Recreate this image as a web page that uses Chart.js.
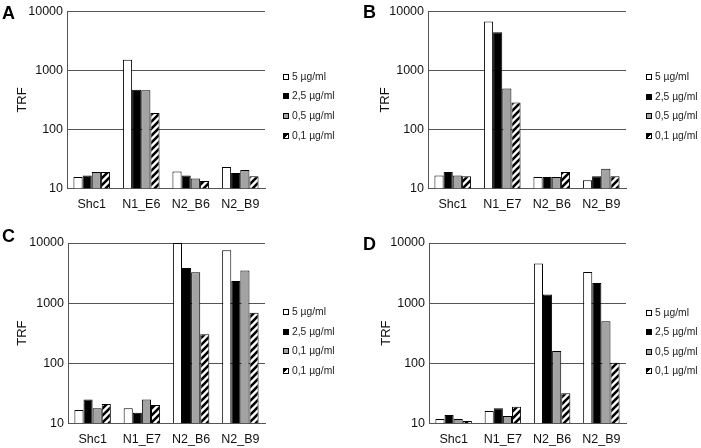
<!DOCTYPE html>
<html><head><meta charset="utf-8">
<script src="https://cdn.jsdelivr.net/npm/chart.js@4.4.0/dist/chart.umd.min.js"></script>
<style>
html,body{margin:0;padding:0;background:#fff;}
body{width:701px;height:448px;position:relative;overflow:hidden;font-family:"Liberation Sans",Arial,sans-serif;}
canvas{position:absolute;}
.letter{position:absolute;font-weight:bold;font-size:18px;line-height:1;color:#000;}
.li{position:absolute;white-space:nowrap;font-size:10.3px;line-height:12px;height:12px;color:#222;}
.sw{position:absolute;width:4px;height:4px;border:1px solid #000;}
</style>
</head><body>
<canvas id="cA" width="350" height="224" style="left:0;top:0"></canvas>
<canvas id="cB" width="351" height="224" style="left:350px;top:0"></canvas>
<canvas id="cC" width="350" height="224" style="left:0;top:224px"></canvas>
<canvas id="cD" width="351" height="224" style="left:350px;top:224px"></canvas>
<div class="letter" style="left:2px;top:4px">A</div>
<div class="letter" style="left:363px;top:3px">B</div>
<div class="letter" style="left:2px;top:227px">C</div>
<div class="letter" style="left:363px;top:235px">D</div>
<div id="legends"></div>
<script>
// ---- data ----
const seriesLabels = ['5 µg/ml', '2,5 µg/ml', '0,5 µg/ml', '0,1 µg/ml'];
const seriesLabelsC = ['5 µg/ml', '2,5 µg/ml', '0,1 µg/ml', '0,1 µg/ml'];
const yTicks = [10, 100, 1000, 10000];
const yTitle = 'TRF';

const categoriesA = ['Shc1', 'N1_E6', 'N2_B6', 'N2_B9'];
const categoriesB = ['Shc1', 'N1_E7', 'N2_B6', 'N2_B9'];
const categoriesC = ['Shc1', 'N1_E7', 'N2_B6', 'N2_B9'];
const categoriesD = ['Shc1', 'N1_E7', 'N2_B6', 'N2_B9'];

const a5  = [15.6, 1525, 19.4, 23];
const a25 = [16.6, 470, 16.6, 18.2];
const a05 = [18.9, 460, 14.7, 20.5];
const a01 = [18.9, 190, 13.4, 16];

const b5  = [16.6, 6800, 15.6, 13.7];
const b25 = [18.9, 4450, 15.6, 16];
const b05 = [16.6, 495, 15.6, 21.5];
const b01 = [16, 285, 18.9, 16];

const c5  = [16.6, 17.8, 10000, 7570];
const c25 = [24.8, 15, 3850, 2340];
const c05 = [17.8, 24.8, 3260, 3480];
const c01 = [21, 20.1, 304, 688];

const d5  = [11.8, 16, 4550, 3300];
const d25 = [13.7, 17.8, 1390, 2170];
const d05 = [11.8, 13.2, 160, 500];
const d01 = [10.9, 18.9, 31.5, 102];

// ---- styles ----
const FONT = '"Liberation Sans", Arial, sans-serif';
function hatch(){
  const s = 7;
  const c = document.createElement('canvas'); c.width = s; c.height = s;
  const x = c.getContext('2d');
  x.fillStyle = '#fff'; x.fillRect(0,0,s,s);
  x.strokeStyle = '#000'; x.lineWidth = 2.6;
  x.beginPath();
  x.moveTo(-1, s+1); x.lineTo(s+1, -1);
  x.moveTo(-1, 1); x.lineTo(1, -1);
  x.moveTo(s-1, s+1); x.lineTo(s+1, s-1);
  x.stroke();
  return x.createPattern(c, 'repeat');
}
const fills = ['#ffffff', '#000000', '#a3a3a3', hatch()];
const legendCss = ['#fff', '#000', '#a3a3a3', 'linear-gradient(135deg,#000 0 50%,#fff 50% 100%)'];

function makePanel(id, cats, series, labels, g){
  new Chart(document.getElementById(id), {
    type: 'bar',
    data: {
      labels: cats,
      datasets: series.map((v, i) => ({
        label: labels[i], data: v, backgroundColor: fills[i],
        borderColor: '#000', borderWidth: 1
      }))
    },
    options: {
      responsive: false, animation: false, devicePixelRatio: 1,
      layout: { padding: { left: 0, right: g.w - g.right, top: g.top, bottom: 0 } },
      plugins: { legend: { display: false }, tooltip: { enabled: false } },
      datasets: { bar: { categoryPercentage: 0.74, barPercentage: 1 } },
      scales: {
        x: {
          grid: { display: false, drawTicks: false },
          border: { display: true, color: '#555', width: 1 },
          ticks: { color: '#111', font: { size: 12.5, family: FONT }, padding: 9, maxRotation: 0, autoSkip: false },
          afterFit(s){ s.height = 224 - g.bottom; }
        },
        y: {
          type: 'logarithmic', min: 10, max: 10000,
          afterBuildTicks(s){ s.ticks = yTicks.map(v => ({ value: v })); },
          ticks: { callback: v => String(v), color: '#111', font: { size: 12.5, family: FONT }, padding: 4 },
          grid: { color: '#555', drawTicks: false, lineWidth: 1 },
          border: { color: '#555', width: 1 },
          title: { display: true, text: yTitle, color: '#111', font: { size: 13, family: FONT }, padding: { top: g.tx - 7.8, bottom: 0 } },
          afterFit(s){ s.width = g.left; }
        }
      }
    }
  });
  // legend (HTML, from series labels)
  const box = document.getElementById('legends');
  labels.forEach((lab, i) => {
    const y = g.ly + i * g.lstep;
    const sw = document.createElement('div');
    sw.className = 'sw';
    sw.style.left = g.lx + 'px'; sw.style.top = (y - 3) + 'px';
    sw.style.background = legendCss[i];
    box.appendChild(sw);
    const t = document.createElement('div');
    t.className = 'li';
    t.textContent = lab;
    t.style.left = (g.lx + 9) + 'px'; t.style.top = (y - 6) + 'px';
    box.appendChild(t);
  });
}

makePanel('cA', categoriesA, [a5, a25, a05, a01], seriesLabels,
  { w: 350, left: 67, right: 265, top: 8, bottom: 188.4, tx: 22.5, lx: 283, ly: 76.5, lstep: 19.9 });
makePanel('cB', categoriesB, [b5, b25, b05, b01], seriesLabels,
  { w: 351, left: 78, right: 276, top: 7.5, bottom: 188.4, tx: 35, lx: 646, ly: 77, lstep: 19.6 });
makePanel('cC', categoriesC, [c5, c25, c05, c01], seriesLabelsC,
  { w: 350, left: 68, right: 265, top: 19, bottom: 199.3, tx: 22.5, lx: 283, ly: 312.3, lstep: 19.5 });
makePanel('cD', categoriesD, [d5, d25, d05, d01], seriesLabels,
  { w: 351, left: 79, right: 276, top: 19, bottom: 199.3, tx: 36, lx: 646, ly: 313, lstep: 19.3 });
</script>
</body></html>
